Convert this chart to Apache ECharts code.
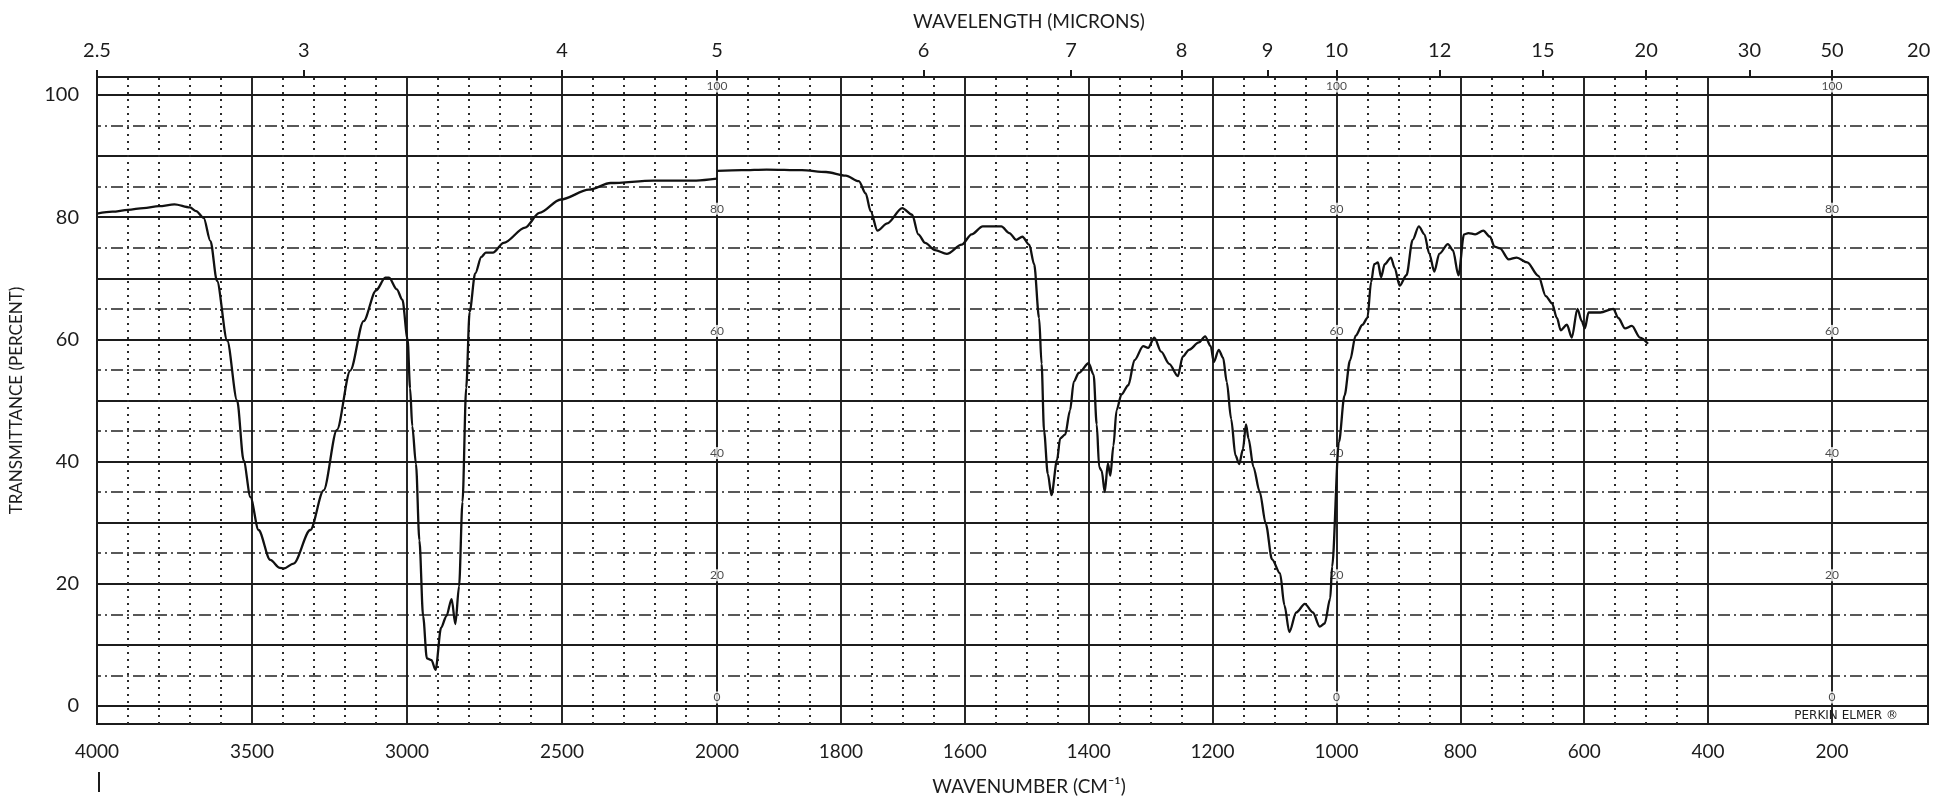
<!DOCTYPE html>
<html>
<head>
<meta charset="utf-8">
<title>IR spectrum</title>
<script src="https://cdn.jsdelivr.net/npm/echarts@6/dist/echarts.min.js"></script>
<style>
  html, body { margin: 0; padding: 0; background: #fff; }
  #main { width: 1956px; height: 802px; }
</style>
</head>
<body>
<div id="main"></div>
<script>
// trace: wavenumber (cm-1) and transmittance (%)
// 4000-2000 part (half scale)
var wnHigh = [4000, 3950, 3900, 3850, 3800, 3750, 3700, 3680, 3656, 3634, 3613, 3580, 3548, 3527, 3505, 3479, 3441, 3410, 3398, 3366,
    3312, 3269, 3226, 3183, 3140, 3100, 3070, 3058, 3033, 3015, 2998, 2990, 2983, 2971, 2960, 2948, 2936, 2921, 2908, 2890,
    2873, 2856, 2844, 2832, 2821, 2809, 2798, 2780, 2760, 2746, 2723, 2688, 2619, 2573, 2504, 2413, 2343, 2205, 2067, 2000];
var tHigh = [80.6, 80.9, 81.2, 81.5, 81.8, 82.1, 81.6, 81.0, 79.9, 76.1, 69.6, 59.8, 50.0, 40.2, 34.2, 28.8, 23.9, 22.6, 22.5, 23.3,
    28.8, 35.3, 45.2, 54.9, 63.0, 68.0, 70.1, 70.1, 68.2, 66.5, 60.0, 52.0, 45.8, 39.6, 27.1, 14.7, 7.8, 7.5, 5.9, 12.8,
    14.7, 17.5, 13.4, 19.6, 33.4, 52.1, 64.5, 70.8, 73.5, 74.2, 74.2, 75.8, 78.3, 80.7, 82.9, 84.5, 85.6, 86.0, 86.0, 86.3];

// 2000-500 part
var wnLow = [2000, 1960, 1920, 1863, 1824, 1792, 1771, 1760, 1752, 1741, 1725, 1701, 1685, 1675, 1664, 1648, 1629, 1605, 1589, 1571,
    1541, 1528, 1517, 1507, 1496, 1488, 1480, 1476, 1472, 1466, 1460, 1451, 1446, 1438, 1430, 1424, 1416, 1400, 1392, 1387,
    1383, 1379, 1374, 1369, 1365, 1360, 1355, 1347, 1336, 1326, 1312, 1304, 1294, 1283, 1270, 1256, 1248, 1238, 1222, 1212,
    1203, 1198, 1190, 1183, 1177, 1170, 1163, 1157, 1151, 1146, 1142, 1134, 1124, 1114, 1104, 1091, 1084, 1076, 1065, 1051,
    1038, 1027, 1019, 1010, 1007, 996, 987, 978, 969, 958, 950, 944, 939, 933, 928, 922, 912, 906, 898, 887,
    877, 867, 858, 850, 842, 834, 820, 812, 803, 794, 787, 776, 763, 752, 745, 736, 722, 709, 692, 674,
    662, 652, 644, 638, 628, 620, 611, 604, 599, 593, 574, 553, 545, 534, 523, 510, 497];
var tLow = [87.6, 87.7, 87.8, 87.7, 87.4, 86.8, 85.9, 83.9, 81.0, 77.8, 79.0, 81.5, 80.4, 77.2, 75.8, 74.6, 74.0, 75.5, 77.2, 78.5,
    78.5, 77.4, 76.3, 76.8, 75.5, 72.3, 63.5, 56.0, 45.0, 38.0, 34.5, 40.3, 43.8, 44.4, 48.4, 53.1, 54.5, 56.1, 54.2, 46.1,
    39.1, 38.5, 35.0, 39.7, 37.7, 42.6, 48.4, 51.0, 52.5, 56.6, 58.9, 58.6, 60.3, 58.0, 56.0, 54.0, 57.2, 58.3, 59.5, 60.5,
    58.9, 56.3, 58.3, 57.0, 53.0, 47.0, 41.0, 39.6, 42.0, 46.1, 43.8, 39.1, 35.1, 29.8, 24.0, 21.7, 16.5, 12.1, 15.3, 16.7,
    15.3, 13.0, 13.5, 17.6, 22.8, 43.2, 50.8, 56.6, 60.6, 62.4, 63.5, 69.4, 72.3, 72.6, 70.2, 72.3, 73.4, 71.7, 68.8, 70.5,
    76.3, 78.5, 77.2, 74.0, 71.1, 74.0, 75.6, 74.6, 70.5, 77.2, 77.4, 77.2, 77.8, 76.8, 75.2, 74.9, 73.1, 73.4, 72.6, 70.4,
    67.1, 65.9, 63.5, 61.5, 62.4, 60.3, 65.0, 63.0, 61.8, 64.4, 64.4, 65.0, 63.5, 61.8, 62.2, 60.3, 59.3];

// axis labels
var wnLabelsHigh = [4000, 3500, 3000, 2500, 2000];
var wnLabelsLow = [1800, 1600, 1400, 1200, 1000, 800, 600, 400, 200];
var pctLabels = [0, 20, 40, 60, 80, 100];
var micronLabels = ['2.5', '3', '4', '5', '6', '7', '8', '9', '10', '12', '15', '20', '30', '50', '20'];
var micronWn = [4000, 3333.3, 2500, 2000, 1666.7, 1428.6, 1250, 1111.1, 1000, 833.3, 666.7, 500, 333.3, 200, 60];
var innerScaleWn = [2000, 1000, 200];

// chart paper rulings
var majorHigh = [3500, 3000, 2500];
var majorLow = [1800, 1600, 1400, 1200, 1000, 800, 600, 400, 200];
var minorHigh = [], minorLow = [], hSolid = [], hDash = [];
for (var w = 3900; w > 2000; w -= 100) if (w % 500) minorHigh.push(w);
for (var w2 = 1950; w2 >= 450; w2 -= 50) if (w2 % 200) minorLow.push(w2);
for (var p = 0; p <= 100; p += 10) hSolid.push(p);
for (var q = 5; q < 100; q += 10) hDash.push(q);

var INK = '#1c1c1c';
var FONT = 'Lato';

function zip(xs, ys) {
    return xs.map(function (x, i) { return [x, ys[i]]; });
}
function plain(v) {
    return String(Math.round(v));
}
function micronText(v) {
    var best = 0;
    for (var i = 1; i < micronWn.length; i++) {
        if (Math.abs(micronWn[i] - v) < Math.abs(micronWn[best] - v)) best = i;
    }
    return micronLabels[best];
}
function rulings(vert, vertDot) {
    var solid = { color: INK, width: 1.9, type: 'solid' };
    var dash = { color: '#222', width: 1.7, type: [12, 4, 2, 4] };
    var dot = { color: '#2a2a2a', width: 2, type: [2, 5] };
    var d = [];
    hSolid.forEach(function (v) { d.push({ yAxis: v, lineStyle: solid }); });
    hDash.forEach(function (v) { d.push({ yAxis: v, lineStyle: dash }); });
    vert.forEach(function (v) { d.push({ xAxis: v, lineStyle: solid }); });
    vertDot.forEach(function (v) { d.push({ xAxis: v, lineStyle: dot }); });
    return d;
}

var myChart = echarts.init(document.getElementById('main'));
var yBase = {
    type: 'value', min: -2.95, max: 102.95,
    axisLine: { show: false }, axisTick: { show: false }, splitLine: { show: false }
};
var option = {
    animation: false,
    backgroundColor: '#fff',
    textStyle: { fontFamily: FONT, color: INK },
    grid: [
        { left: 97, width: 620, top: 77, bottom: 78, show: true, borderColor: INK, borderWidth: 2 },
        { left: 717, right: 28, top: 77, bottom: 78, show: true, borderColor: INK, borderWidth: 2 }
    ],
    xAxis: [
        {
            gridIndex: 0, type: 'value', min: 2000, max: 4000, inverse: true, position: 'bottom',
            axisLine: { show: false }, axisTick: { show: false }, splitLine: { show: false },
            axisLabel: { customValues: wnLabelsHigh, margin: 18, fontSize: 19, color: INK, fontFamily: FONT, formatter: plain }
        },
        {
            gridIndex: 1, type: 'value', min: 45, max: 2000, inverse: true, position: 'bottom',
            axisLine: { show: false }, axisTick: { show: false }, splitLine: { show: false },
            axisLabel: { customValues: wnLabelsLow, margin: 18, fontSize: 19, color: INK, fontFamily: FONT, formatter: plain }
        },
        {
            gridIndex: 0, type: 'value', min: 2000, max: 4000, inverse: true, position: 'top',
            axisLine: { show: false }, splitLine: { show: false },
            axisTick: { show: true, customValues: micronWn.filter(function (v) { return v > 2000; }), length: 7, lineStyle: { color: INK, width: 2 } },
            axisLabel: {
                customValues: micronWn.filter(function (v) { return v > 2000; }),
                margin: 16, fontSize: 20, color: INK, fontFamily: FONT, formatter: micronText
            }
        },
        {
            gridIndex: 1, type: 'value', min: 45, max: 2000, inverse: true, position: 'top',
            axisLine: { show: false }, splitLine: { show: false },
            axisTick: { show: true, customValues: micronWn.filter(function (v) { return v <= 2000 && v > 150; }), length: 7, lineStyle: { color: INK, width: 2 } },
            axisLabel: {
                customValues: micronWn.filter(function (v) { return v <= 2000; }),
                margin: 16, fontSize: 20, color: INK, fontFamily: FONT, formatter: micronText
            }
        }
    ],
    yAxis: [
        echarts.util.merge({
            gridIndex: 0,
            name: 'TRANSMITTANCE (PERCENT)', nameLocation: 'middle', nameGap: 72, nameRotate: 90,
            nameTextStyle: { fontSize: 17, color: INK, fontFamily: FONT },
            axisLabel: { customValues: pctLabels, margin: 18, fontSize: 20, color: INK, fontFamily: FONT, formatter: plain }
        }, yBase, true),
        echarts.util.merge({ gridIndex: 1, axisLabel: { show: false } }, yBase, true)
    ],
    graphic: [
        { type: 'text', x: 1029, y: 22, style: { text: 'WAVELENGTH (MICRONS)', fill: INK, font: '19px Lato', textAlign: 'center', textVerticalAlign: 'middle' } },
        { type: 'text', x: 1029, y: 787, style: { text: 'WAVENUMBER (CM⁻¹)', fill: INK, font: '19px Lato', textAlign: 'center', textVerticalAlign: 'middle' } },
        { type: 'text', x: 1898, y: 716, style: { text: 'PERKIN ELMER ®', fill: INK, font: '12px "DejaVu Sans"', textAlign: 'right', textVerticalAlign: 'middle' } },
        { type: 'line', shape: { x1: 99, y1: 772, x2: 99, y2: 792 }, style: { stroke: INK, lineWidth: 2 } }
    ],
    series: [
        {
            name: 'paper-high', type: 'line', xAxisIndex: 0, yAxisIndex: 0, data: [], z: 1, silent: true,
            markLine: { silent: true, symbol: ['none', 'none'], label: { show: false }, data: rulings(majorHigh, minorHigh) }
        },
        {
            name: 'paper-low', type: 'line', xAxisIndex: 1, yAxisIndex: 1, data: [], z: 1, silent: true,
            markLine: { silent: true, symbol: ['none', 'none'], label: { show: false }, data: rulings(majorLow, minorLow) }
        },
        {
            name: 'inner scale', type: 'scatter', xAxisIndex: 1, yAxisIndex: 1, z: 8, silent: true,
            symbolSize: 1, itemStyle: { color: 'rgba(0,0,0,0)' },
            data: innerScaleWn.reduce(function (acc, w) {
                return acc.concat(pctLabels.map(function (v) { return [w, v]; }));
            }, []),
            label: {
                show: true, position: 'top', distance: 2, fontSize: 12, color: INK, fontFamily: FONT,
                backgroundColor: '#fff', padding: [0, 1],
                formatter: function (pr) { return String(pr.value[1]); }
            }
        },
        {
            name: 'trace 4000-2000', type: 'line', xAxisIndex: 0, yAxisIndex: 0, z: 10,
            data: zip(wnHigh, tHigh), showSymbol: false, smooth: 0.3, smoothMonotone: 'x',
            lineStyle: { color: '#111', width: 2.3 }
        },
        {
            name: 'trace 2000-500', type: 'line', xAxisIndex: 1, yAxisIndex: 1, z: 10,
            data: zip(wnLow, tLow), showSymbol: false, smooth: 0.3, smoothMonotone: 'x',
            lineStyle: { color: '#111', width: 2.3 }
        }
    ]
};
myChart.setOption(option);
</script>
</body>
</html>
